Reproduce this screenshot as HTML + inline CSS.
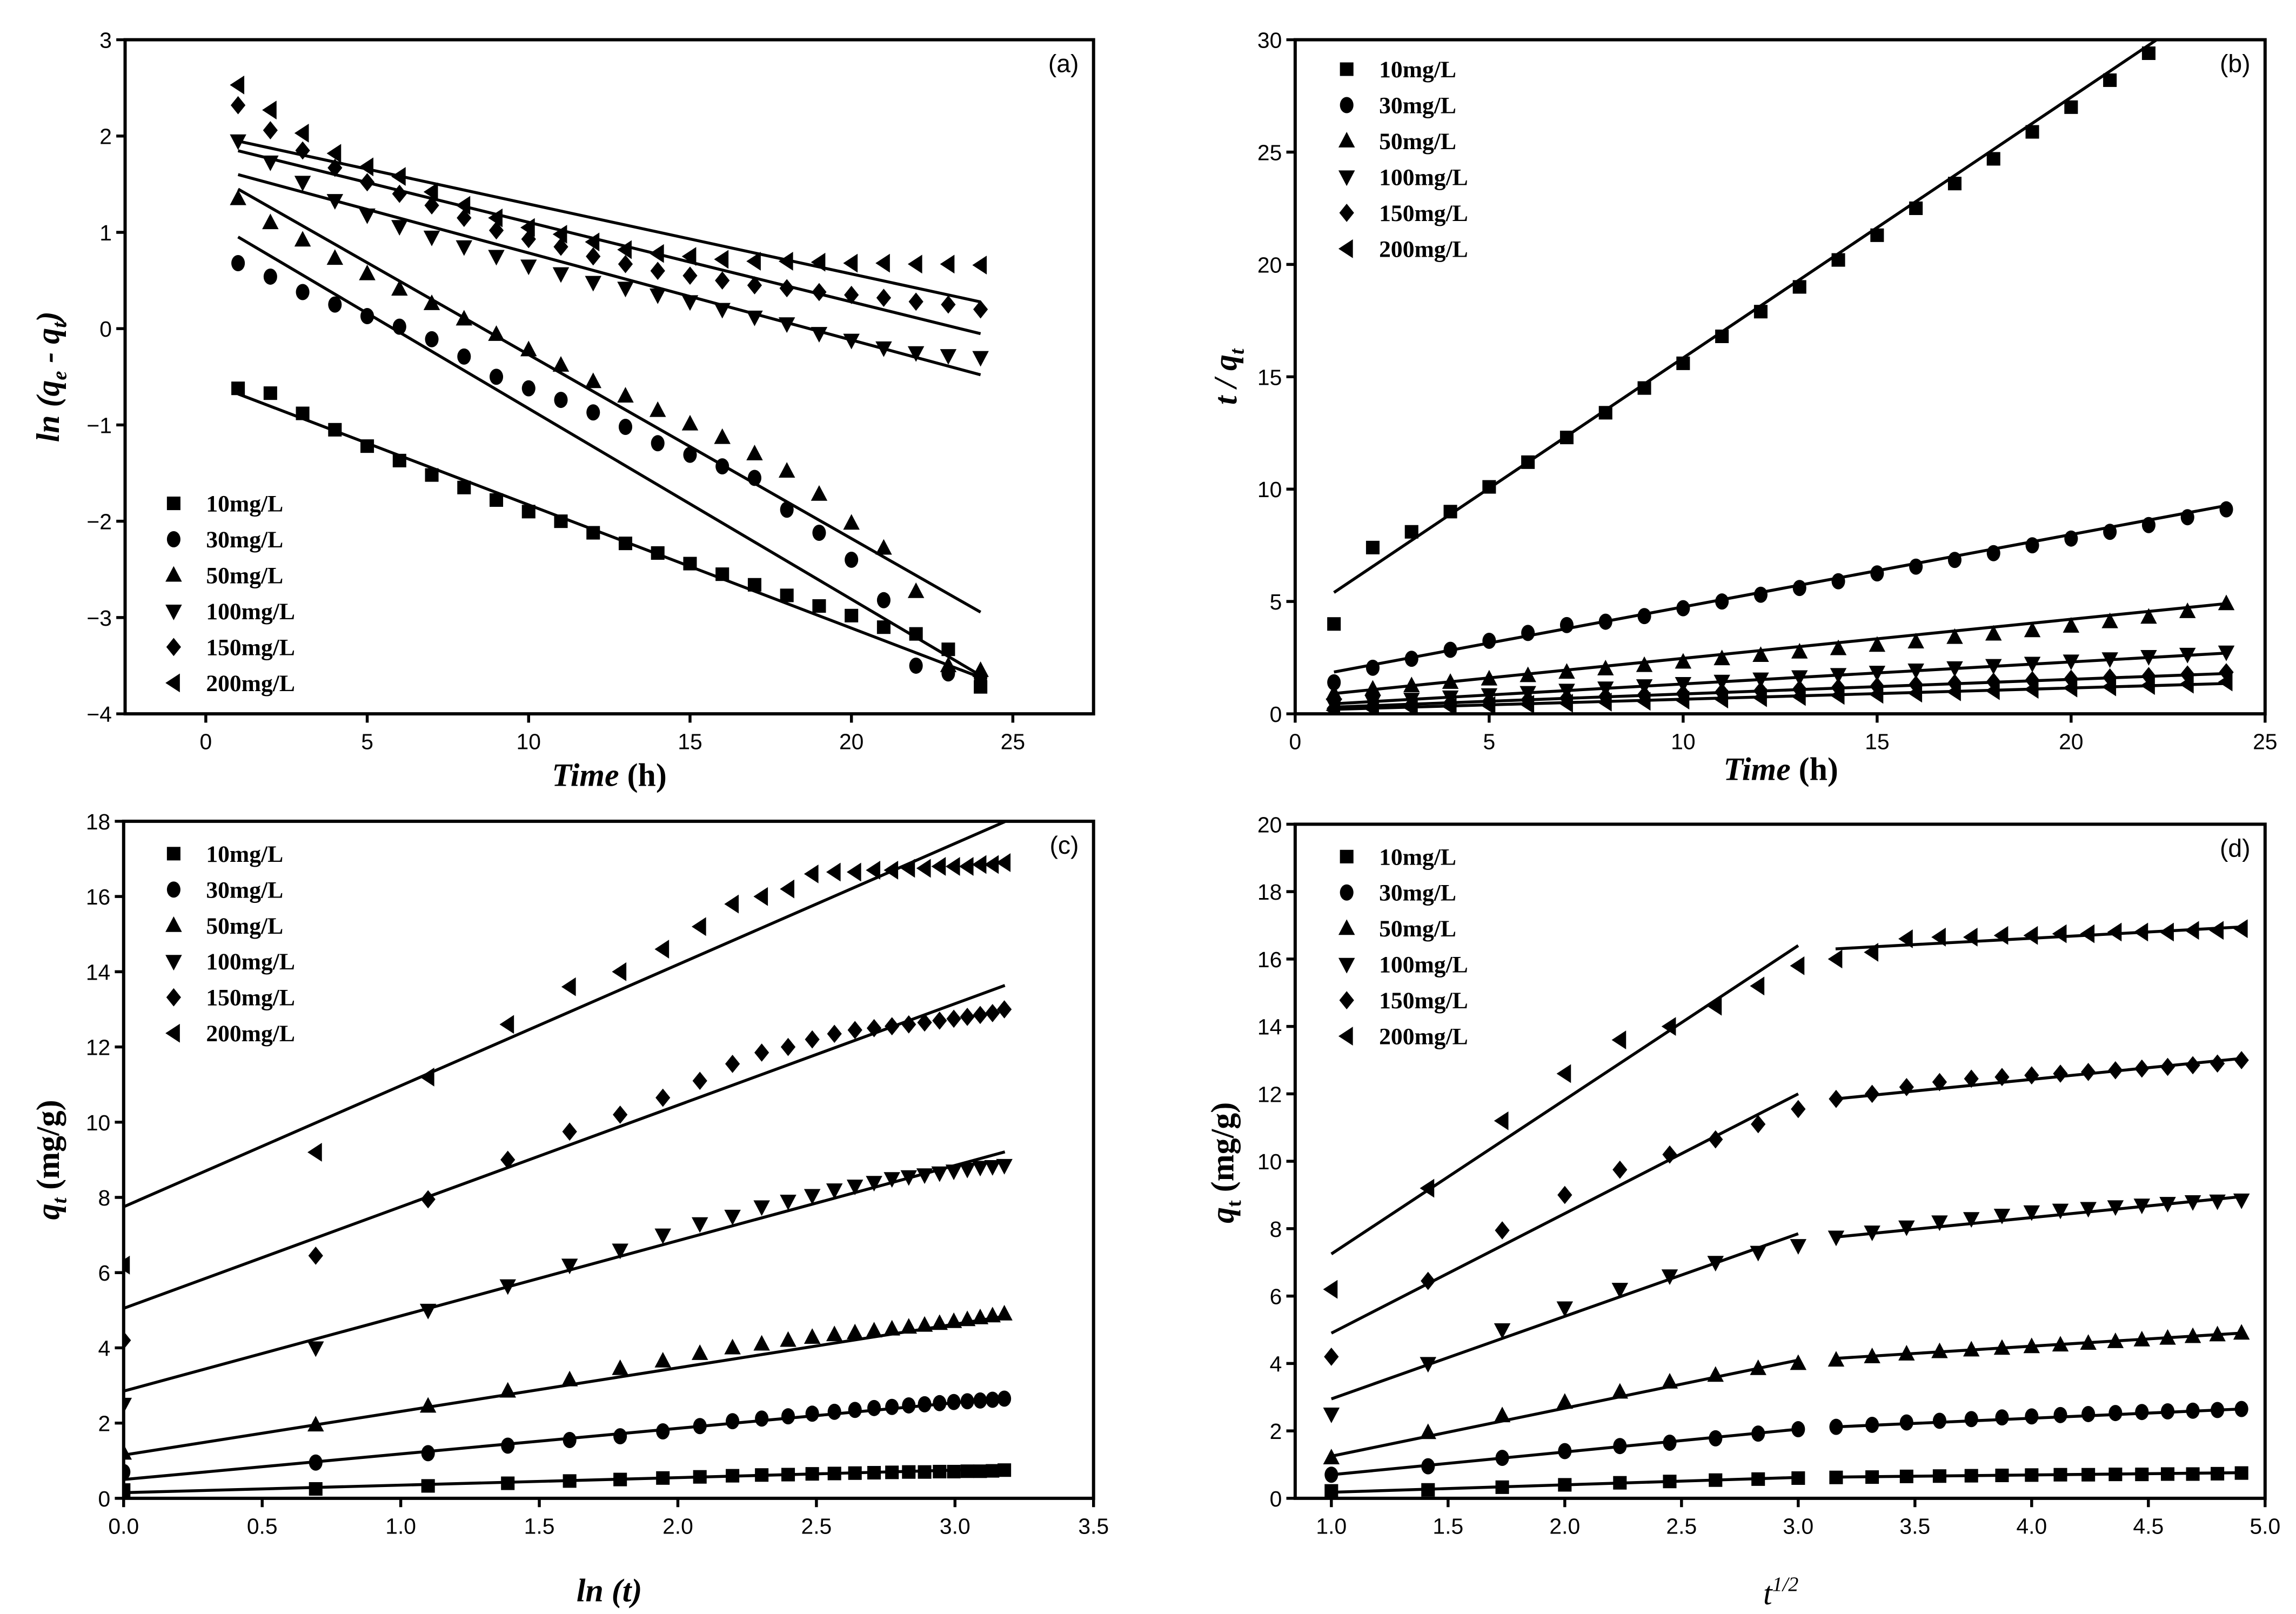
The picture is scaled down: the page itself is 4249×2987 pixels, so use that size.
<!DOCTYPE html>
<html><head><meta charset="utf-8"><title>Kinetic model plots</title>
<style>html,body{margin:0;padding:0;background:#fff}svg{display:block}</style></head>
<body>
<svg id="fig" xmlns="http://www.w3.org/2000/svg" width="4249" height="2987" viewBox="0 0 1560 1096.6" preserveAspectRatio="none"></svg>
<script>
// ---------- data ----------
const seriesNames = ["10mg/L","30mg/L","50mg/L","100mg/L","150mg/L","200mg/L"];
const markerTypes = ["square","circle","up","down","diamond","left"];
const timeH = [1,2,3,4,5,6,7,8,9,10,11,12,13,14,15,16,17,18,19,20,21,22,23,24];

// (a) ln(qe-qt)
const aS10 = [-0.62,-0.67,-0.88,-1.05,-1.22,-1.37,-1.52,-1.65,-1.78,-1.9,-2.0,-2.12,-2.23,-2.33,-2.44,-2.55,-2.66,-2.77,-2.88,-2.98,-3.1,-3.17,-3.33,-3.72];
const aS30 = [0.68,0.54,0.38,0.25,0.13,0.02,-0.11,-0.29,-0.5,-0.62,-0.74,-0.87,-1.02,-1.19,-1.31,-1.43,-1.55,-1.88,-2.12,-2.4,-2.82,-3.5,-3.58,-3.62];
const aS50 = [1.35,1.1,0.92,0.73,0.57,0.41,0.26,0.1,-0.06,-0.22,-0.38,-0.55,-0.7,-0.85,-0.99,-1.13,-1.3,-1.48,-1.72,-2.02,-2.28,-2.73,-3.5,-3.55];
const aS100 = [1.95,1.73,1.52,1.33,1.18,1.06,0.95,0.85,0.75,0.65,0.57,0.48,0.42,0.35,0.28,0.2,0.12,0.05,-0.05,-0.12,-0.2,-0.25,-0.28,-0.3];
const aS150 = [2.32,2.06,1.85,1.67,1.52,1.4,1.28,1.15,1.02,0.93,0.85,0.75,0.67,0.6,0.55,0.5,0.45,0.42,0.38,0.35,0.32,0.28,0.25,0.2];
const aS200 = [2.53,2.27,2.03,1.82,1.68,1.58,1.42,1.28,1.15,1.05,0.98,0.9,0.82,0.78,0.75,0.72,0.7,0.7,0.69,0.68,0.68,0.67,0.67,0.66];
const aSlope = [-0.128,-0.198,-0.191,-0.0904,-0.0826,-0.0726];
const aIntercept = [-0.55,1.15,1.64,1.69,1.93,2.02];

// (b) t/qt
const bS10 = [4.0,7.4,8.1,9.0,10.1,11.2,12.3,13.4,14.5,15.6,16.8,17.9,19.0,20.2,21.3,22.5,23.6,24.7,25.9,27.0,28.2,29.4];
const bS30 = [1.4,2.05,2.45,2.85,3.25,3.6,3.95,4.1,4.35,4.7,5.0,5.3,5.6,5.9,6.25,6.55,6.85,7.15,7.5,7.8,8.1,8.4,8.75,9.1];
const bS50 = [0.9,1.1,1.25,1.4,1.55,1.7,1.85,2.0,2.15,2.3,2.45,2.6,2.75,2.9,3.05,3.2,3.4,3.55,3.7,3.9,4.1,4.3,4.55,4.9];
const bS100 = [0.4,0.55,0.65,0.75,0.85,0.95,1.05,1.15,1.25,1.35,1.45,1.55,1.65,1.75,1.85,1.95,2.05,2.15,2.25,2.35,2.45,2.55,2.65,2.75];
const bS150 = [0.24,0.33,0.4,0.48,0.55,0.62,0.7,0.77,0.84,0.9,0.97,1.03,1.1,1.17,1.23,1.3,1.37,1.43,1.5,1.56,1.62,1.68,1.75,1.85];
const bS200 = [0.16,0.22,0.27,0.32,0.37,0.42,0.47,0.52,0.56,0.61,0.66,0.72,0.77,0.82,0.87,0.92,0.98,1.03,1.09,1.15,1.2,1.26,1.32,1.42];
const bSlope = [1.16,0.322,0.174,0.098,0.065,0.05];
const bIntercept = [4.24,1.54,0.73,0.35,0.235,0.15];

// qt values (c) and (d)
const q10 = [0.22,0.25,0.33,0.4,0.46,0.5,0.54,0.57,0.6,0.62,0.63,0.65,0.66,0.67,0.68,0.69,0.7,0.7,0.71,0.71,0.72,0.72,0.73,0.75];
const q30 = [0.7,0.95,1.2,1.4,1.55,1.65,1.78,1.92,2.05,2.12,2.18,2.25,2.3,2.35,2.4,2.43,2.47,2.5,2.53,2.56,2.58,2.6,2.62,2.65];
const q50 = [1.2,1.95,2.45,2.85,3.15,3.45,3.65,3.85,4.0,4.1,4.2,4.28,4.35,4.4,4.45,4.5,4.55,4.6,4.65,4.7,4.75,4.8,4.85,4.9];
const q100 = [2.5,4.0,5.0,5.65,6.2,6.6,7.0,7.3,7.5,7.75,7.9,8.05,8.2,8.3,8.4,8.5,8.55,8.6,8.65,8.7,8.75,8.8,8.82,8.85];
const q150 = [4.2,6.45,7.95,9.0,9.75,10.2,10.65,11.1,11.55,11.85,12.0,12.2,12.35,12.45,12.5,12.55,12.6,12.65,12.7,12.75,12.8,12.85,12.9,13.0];
const q200 = [6.2,9.2,11.2,12.6,13.6,14.0,14.6,15.2,15.8,16.0,16.2,16.6,16.65,16.65,16.7,16.7,16.75,16.75,16.8,16.8,16.8,16.85,16.85,16.9];
const cSlope = [0.2,0.68,1.16,2.0,2.7,3.22];
const cIntercept = [0.15,0.5,1.15,2.85,5.05,7.75];
const dSlope1 = [0.22,0.675,1.425,2.45,3.55,4.575];
const dIntercept1 = [-0.04,0.025,-0.175,0.5,1.35,2.675];
const dSlope2 = [0.075,0.305,0.431,0.69,0.69,0.374];
const dIntercept2 = [0.393,1.156,2.79,5.57,9.67,15.12];

const aTicksX = [0,5,10,15,20,25], aTicksY = [-4,-3,-2,-1,0,1,2,3];
const bTicksX = [0,5,10,15,20,25], bTicksY = [0,5,10,15,20,25,30];
const cTicksX = [0,0.5,1,1.5,2,2.5,3,3.5], cTicksY = [0,2,4,6,8,10,12,14,16,18];
const dTicksX = [1,1.5,2,2.5,3,3.5,4,4.5,5], dTicksY = [0,2,4,6,8,10,12,14,16,18,20];

// ---------- drawing ----------
const NS = "http://www.w3.org/2000/svg";
const svg = document.getElementById("fig");
function mk(tag, attrs, parent){ const e=document.createElementNS(NS,tag); for(const k in attrs) e.setAttribute(k,attrs[k]); (parent||svg).appendChild(e); return e; }

function panel(cfg){
  const g = mk("g",{});
  
  
  const L=cfg.box[0],T=cfg.box[1],R=cfg.box[2],B=cfg.box[3];
  const sx = v => L + (v-cfg.xr[0])/(cfg.xr[1]-cfg.xr[0])*(R-L);
  const sy = v => B - (v-cfg.yr[0])/(cfg.yr[1]-cfg.yr[0])*(B-T);
  const cid = cfg.name+"-clip";
  const cp = mk("clipPath",{id:cid},g); mk("rect",{x:L,y:T,width:R-L,height:B-T},cp);
  const frame = mk("rect",{x:L,y:T,width:R-L,height:B-T,fill:"none",stroke:"#000","stroke-width":2.2},g);
  
  
  cfg.tx.forEach(v=>{
    mk("line",{x1:sx(v),x2:sx(v),y1:B,y2:B+6,stroke:"#000","stroke-width":2},g);
    const t=mk("text",{x:sx(v),y:B+24,"text-anchor":"middle","font-family":"Liberation Sans, sans-serif","font-size":15},g);
    t.textContent = cfg.fmtX ? v.toFixed(1) : String(v);
    
    
  });
  cfg.ty.forEach(v=>{
    mk("line",{x1:L-6,x2:L,y1:sy(v),y2:sy(v),stroke:"#000","stroke-width":2},g);
    const t=mk("text",{x:L-9,y:sy(v)+5.5,"text-anchor":"end","font-family":"Liberation Sans, sans-serif","font-size":15},g);
    t.textContent = String(v).replace("-","\u2212");
    
    
  });
  const pl = mk("text",{x:R-10,y:T+22,"text-anchor":"end","font-family":"Liberation Sans, sans-serif","font-size":17},g);
  pl.textContent = cfg.label;
  
  
  const cg = mk("g",{"clip-path":"url(#"+cid+")"},g);
  cfg.lines.forEach(ln=>{
    const l=mk("line",{x1:sx(ln[0]),y1:sy(ln[1]),x2:sx(ln[2]),y2:sy(ln[3]),stroke:"#000","stroke-width":2},cg);
    
    
  });
  cfg.series.forEach((s,i)=>{
    s.y.forEach((v,j)=>{
      const m = marker(markerTypes[i], sx(s.x[j]), sy(v), cg);
      
      
    });
  });
  const lg = mk("g",{},g);
  
  
  seriesNames.forEach((n,i)=>{
    const y = cfg.leg[1] + i*24.4;
    marker(markerTypes[i], cfg.leg[0], y, lg);
    const t=mk("text",{x:cfg.leg[0]+22,y:y+5.5,"font-family":"Liberation Serif, serif","font-weight":"bold","font-size":16},lg);
    t.textContent=n;
    
    
  });
  return {sx,sy,g};
}
function marker(type,x,y,p){
  if(type==="square") return mk("rect",{x:x-4.6,y:y-4.6,width:9.2,height:9.2,fill:"#000"},p);
  if(type==="circle") return mk("ellipse",{cx:x,cy:y,rx:4.6,ry:5.5,fill:"#000"},p);
  let pts;
  if(type==="up") pts=[[x,y-6.2],[x+5.6,y+4.4],[x-5.6,y+4.4]];
  if(type==="down") pts=[[x,y+6.2],[x+5.6,y-4.4],[x-5.6,y-4.4]];
  if(type==="diamond") pts=[[x,y-6.2],[x+5,y],[x,y+6.2],[x-5,y]];
  if(type==="left") pts=[[x-5.6,y],[x+4.2,y-6.4],[x+4.2,y+6.4]];
  return mk("polygon",{points:pts.map(q=>q.join(",")).join(" "),fill:"#000"},p);
}
function fitLines(sl,ic,x0,x1){ return sl.map((s,i)=>[x0,ic[i]+s*x0,x1,ic[i]+s*x1]); }
const lnT = timeH.map(t=>Math.log(t));
const sqT = timeH.map(t=>Math.sqrt(t));
const qAll=[q10,q30,q50,q100,q150,q200];

panel({name:"panel-a",box:[85,27,743,485],xr:[-2.5,27.5],yr:[-4,3],tx:aTicksX,ty:aTicksY,label:"(a)",
  lines:fitLines(aSlope,aIntercept,1,24),
  series:[aS10,aS30,aS50,aS100,aS150,aS200].map(y=>({x:timeH,y})),leg:[118,342]});
panel({name:"panel-b",box:[880,27,1539,485],xr:[0,25],yr:[0,30],tx:bTicksX,ty:bTicksY,label:"(b)",
  lines:fitLines(bSlope,bIntercept,1,24),
  series:[bS10,bS30,bS50,bS100,bS150,bS200].map(y=>({x:timeH,y})),leg:[915,47]});
panel({name:"panel-c",box:[84,558,743,1018],xr:[0,3.5],yr:[0,18],tx:cTicksX,ty:cTicksY,label:"(c)",fmtX:true,
  lines:fitLines(cSlope,cIntercept,0,3.18),
  series:qAll.map(y=>({x:lnT,y})),leg:[118,580]});
panel({name:"panel-d",box:[880,560,1539,1018],xr:[0.845,5],yr:[0,20],tx:dTicksX,ty:dTicksY,label:"(d)",fmtX:true,
  lines:fitLines(dSlope1,dIntercept1,1,3).concat(fitLines(dSlope2,dIntercept2,3.16,4.9)),
  series:qAll.map(y=>({x:sqT,y})),leg:[915,582]});
</script>
<div style="position:absolute;left:0;top:0;width:4249px;height:2987px;pointer-events:none">
  <svg width="4249" height="2987" viewBox="0 0 1560 1096.6" preserveAspectRatio="none" style="position:absolute;left:0;top:0">
    <g font-family="Liberation Serif, serif" font-weight="bold" font-size="22">
      <text x="414" y="534" text-anchor="middle"><tspan font-style="italic">Time</tspan> (h)</text>
      <text x="1210" y="530" text-anchor="middle"><tspan font-style="italic">Time</tspan> (h)</text>
      <text x="414" y="1088" text-anchor="middle" font-style="italic">ln (t)</text>
      <text x="1210" y="1090" text-anchor="middle" font-style="italic" font-weight="normal">t<tspan font-size="14" dy="-9">1/2</tspan></text>
      <text transform="translate(40,256) rotate(-90)" text-anchor="middle" font-style="italic">ln (q<tspan font-size="14" dy="5">e</tspan><tspan dy="-5"> - q</tspan><tspan font-size="14" dy="5">t</tspan><tspan dy="-5">)</tspan></text>
      <text transform="translate(840,256) rotate(-90)" text-anchor="middle" font-style="italic">t / q<tspan font-size="14" dy="5">t</tspan></text>
      <text transform="translate(40,788) rotate(-90)" text-anchor="middle"><tspan font-style="italic">q</tspan><tspan font-size="14" dy="5" font-style="italic">t</tspan><tspan dy="-5"> (mg/g)</tspan></text>
      <text transform="translate(838,790) rotate(-90)" text-anchor="middle"><tspan font-style="italic">q</tspan><tspan font-size="14" dy="5">t</tspan><tspan dy="-5"> (mg/g)</tspan></text>
    </g>
  </svg>
</div>
</body></html>
